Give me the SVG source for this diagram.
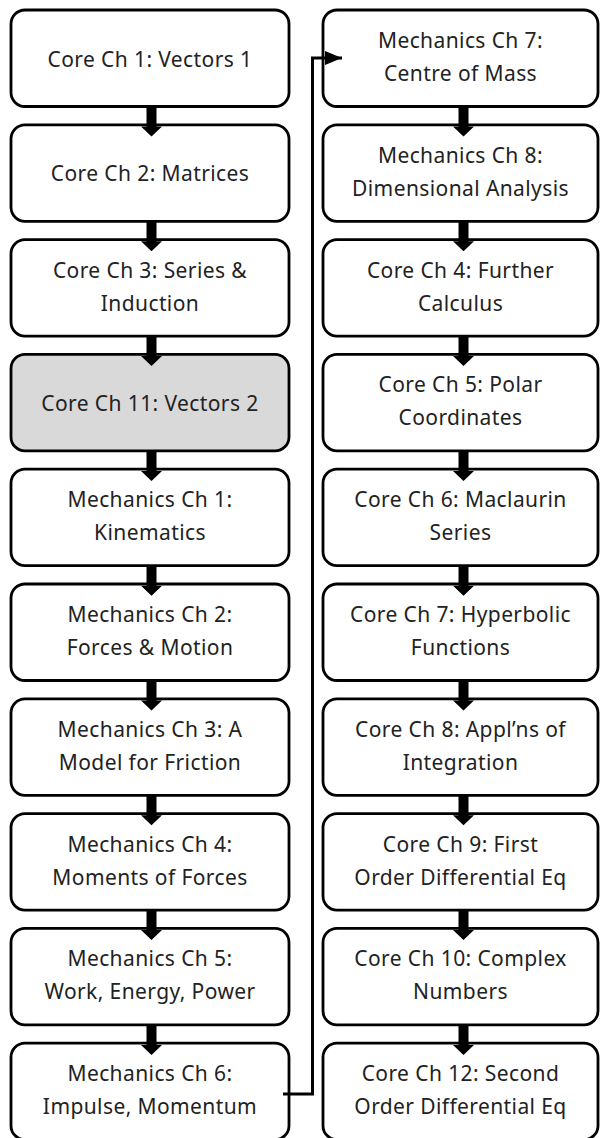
<svg xmlns="http://www.w3.org/2000/svg" width="600" height="1138" viewBox="0 0 600 1138">
<style>
.box{fill:#fff;stroke:#000;stroke-width:2.8}
.hl{fill:#d9d9d9}
text{font-family:"Noto Sans","DejaVu Sans",sans-serif;font-size:21px;letter-spacing:0.4px;fill:#222;text-anchor:middle}
.conn{fill:none;stroke:#000;stroke-width:3}
</style>
<defs>
<path id="darr" d="M-5,0 H5 V20 H10.5 L0,30 L-10.5,20 H-5 Z" fill="#000"/>
<marker id="ah" markerUnits="userSpaceOnUse" markerWidth="18" markerHeight="14" refX="17" refY="7" orient="auto">
<path d="M0,0 L17,7 L0,14 Z" fill="#000"/>
</marker>
</defs>
<g id="n1"><rect class="box" x="11" y="10" width="278" height="96.5" rx="14"/><text x="150" y="66.5">Core Ch 1: Vectors 1</text></g>
<g id="n2"><rect class="box" x="11" y="124.8" width="278" height="96.5" rx="14"/><text x="150" y="181.3">Core Ch 2: Matrices</text></g>
<g id="n3"><rect class="box" x="11" y="239.6" width="278" height="96.5" rx="14"/><text x="150" y="277.6">Core Ch 3: Series &amp;</text><text x="150" y="310.6">Induction</text></g>
<g id="n4"><rect class="box hl" x="11" y="354.4" width="278" height="96.5" rx="14"/><text x="150" y="410.9">Core Ch 11: Vectors 2</text></g>
<g id="n5"><rect class="box" x="11" y="469.2" width="278" height="96.5" rx="14"/><text x="150" y="507.2">Mechanics Ch 1:</text><text x="150" y="540.2">Kinematics</text></g>
<g id="n6"><rect class="box" x="11" y="584" width="278" height="96.5" rx="14"/><text x="150" y="622">Mechanics Ch 2:</text><text x="150" y="655">Forces &amp; Motion</text></g>
<g id="n7"><rect class="box" x="11" y="698.8" width="278" height="96.5" rx="14"/><text x="150" y="736.8">Mechanics Ch 3: A</text><text x="150" y="769.8">Model for Friction</text></g>
<g id="n8"><rect class="box" x="11" y="813.6" width="278" height="96.5" rx="14"/><text x="150" y="851.6">Mechanics Ch 4:</text><text x="150" y="884.6">Moments of Forces</text></g>
<g id="n9"><rect class="box" x="11" y="928.4" width="278" height="96.5" rx="14"/><text x="150" y="966.4">Mechanics Ch 5:</text><text x="150" y="999.4">Work, Energy, Power</text></g>
<g id="n10"><rect class="box" x="11" y="1043.2" width="278" height="96.5" rx="14"/><text x="150" y="1081.2">Mechanics Ch 6:</text><text x="150" y="1114.2">Impulse, Momentum</text></g>
<g id="n11"><rect class="box" x="323" y="10" width="275" height="96.5" rx="14"/><text x="460.5" y="48">Mechanics Ch 7:</text><text x="460.5" y="81">Centre of Mass</text></g>
<g id="n12"><rect class="box" x="323" y="124.8" width="275" height="96.5" rx="14"/><text x="460.5" y="162.8">Mechanics Ch 8:</text><text x="460.5" y="195.8">Dimensional Analysis</text></g>
<g id="n13"><rect class="box" x="323" y="239.6" width="275" height="96.5" rx="14"/><text x="460.5" y="277.6">Core Ch 4: Further</text><text x="460.5" y="310.6">Calculus</text></g>
<g id="n14"><rect class="box" x="323" y="354.4" width="275" height="96.5" rx="14"/><text x="460.5" y="392.4">Core Ch 5: Polar</text><text x="460.5" y="425.4">Coordinates</text></g>
<g id="n15"><rect class="box" x="323" y="469.2" width="275" height="96.5" rx="14"/><text x="460.5" y="507.2">Core Ch 6: Maclaurin</text><text x="460.5" y="540.2">Series</text></g>
<g id="n16"><rect class="box" x="323" y="584" width="275" height="96.5" rx="14"/><text x="460.5" y="622">Core Ch 7: Hyperbolic</text><text x="460.5" y="655">Functions</text></g>
<g id="n17"><rect class="box" x="323" y="698.8" width="275" height="96.5" rx="14"/><text x="460.5" y="736.8">Core Ch 8: Appl’ns of</text><text x="460.5" y="769.8">Integration</text></g>
<g id="n18"><rect class="box" x="323" y="813.6" width="275" height="96.5" rx="14"/><text x="460.5" y="851.6">Core Ch 9: First</text><text x="460.5" y="884.6">Order Differential Eq</text></g>
<g id="n19"><rect class="box" x="323" y="928.4" width="275" height="96.5" rx="14"/><text x="460.5" y="966.4">Core Ch 10: Complex</text><text x="460.5" y="999.4">Numbers</text></g>
<g id="n20"><rect class="box" x="323" y="1043.2" width="275" height="96.5" rx="14"/><text x="460.5" y="1081.2">Core Ch 12: Second</text><text x="460.5" y="1114.2">Order Differential Eq</text></g>
<g id="connectors">
<use href="#darr" x="151.5" y="106.5"/>
<use href="#darr" x="151.5" y="221.3"/>
<use href="#darr" x="151.5" y="336.1"/>
<use href="#darr" x="151.5" y="450.9"/>
<use href="#darr" x="151.5" y="565.7"/>
<use href="#darr" x="151.5" y="680.5"/>
<use href="#darr" x="151.5" y="795.3"/>
<use href="#darr" x="151.5" y="910.1"/>
<use href="#darr" x="151.5" y="1024.9"/>
<use href="#darr" x="463.5" y="106.5"/>
<use href="#darr" x="463.5" y="221.3"/>
<use href="#darr" x="463.5" y="336.1"/>
<use href="#darr" x="463.5" y="450.9"/>
<use href="#darr" x="463.5" y="565.7"/>
<use href="#darr" x="463.5" y="680.5"/>
<use href="#darr" x="463.5" y="795.3"/>
<use href="#darr" x="463.5" y="910.1"/>
<use href="#darr" x="463.5" y="1024.9"/>
<path class="conn" d="M283,1094 H312.5 V58 H342" marker-end="url(#ah)"/>
</g>
</svg>
